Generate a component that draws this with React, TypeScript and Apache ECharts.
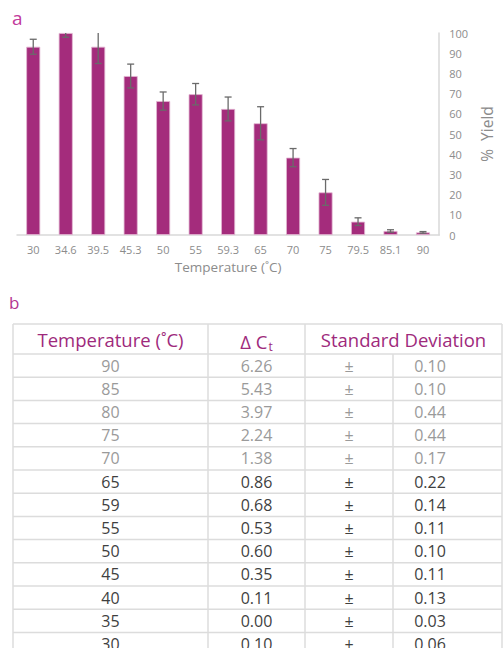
import React, { useEffect, useRef } from "react";
import * as echarts from "echarts";

const categories = ["30", "34.6", "39.5", "45.3", "50", "55", "59.3", "65", "70", "75", "79.5", "85.1", "90"];
const yieldValues = [93.2, 100, 93.2, 78.7, 66.3, 69.7, 62.4, 55.3, 38.3, 21.1, 6.6, 2.0, 1.3];
const yieldErrors = [3.7, 2.1, 8.3, 5.9, 4.5, 5.3, 5.9, 8.2, 4.5, 6.4, 1.9, 0.6, 0.4];
const yTicks = { min: 0, max: 100, interval: 10 };

const tableTemps = ["90", "85", "80", "75", "70", "65", "59", "55", "50", "45", "40", "35", "30"];
const deltaCt = ["6.26", "5.43", "3.97", "2.24", "1.38", "0.86", "0.68", "0.53", "0.60", "0.35", "0.11", "0.00", "0.10"];
const stdDev = ["0.10", "0.10", "0.44", "0.44", "0.17", "0.22", "0.14", "0.11", "0.10", "0.11", "0.13", "0.03", "0.06"];
const lightRows = 5;

const FONT = "'Open Sans', 'Noto Sans', sans-serif";

export default function App() {
  const ref = useRef<HTMLDivElement>(null);
  useEffect(() => {
    if (!ref.current) return;
    const chart = echarts.init(ref.current, null, { renderer: "svg" });

    const graphics: any[] = [];
    // panel labels
    graphics.push({ type: "text", left: 12, top: 8, style: { text: "a", fontSize: 19, fill: "#c23a9c", fontFamily: FONT } });
    graphics.push({ type: "text", left: 9, top: 294, style: { text: "b", fontSize: 17, fill: "#b3348f", fontFamily: FONT } });

    // table geometry
    const tLeft = 13, tRight = 502, tTop = 324, hBottom = 354, rowH = 23.2;
    const colX = [13, 208, 305, 393, 502];
    const tBottom = 660;
    const lineStyle = { stroke: "#dcdcdc", lineWidth: 1.5 };
    graphics.push({ type: "line", shape: { x1: tLeft, y1: tTop, x2: tRight, y2: tTop }, style: lineStyle });
    for (let i = 0; i <= tableTemps.length; i++) {
      const y = hBottom + i * rowH;
      graphics.push({ type: "line", shape: { x1: tLeft, y1: y, x2: tRight, y2: y }, style: lineStyle });
    }
    [colX[0], colX[1], colX[2], colX[4]].forEach((x) => {
      graphics.push({ type: "line", shape: { x1: x, y1: tTop, x2: x, y2: tBottom }, style: lineStyle });
    });
    graphics.push({ type: "line", shape: { x1: colX[3], y1: hBottom, x2: colX[3], y2: tBottom }, style: lineStyle });

    const headColor = "#9e2a7c";
    const hy = (tTop + hBottom) / 2;
    graphics.push({ type: "text", x: (colX[0] + colX[1]) / 2, y: hy, style: { text: "Temperature (˚C)", fontSize: 18.5, fill: headColor, fontFamily: FONT, align: "center", verticalAlign: "middle" } });
    graphics.push({
      type: "text", x: (colX[1] + colX[2]) / 2, y: hy + 2,
      style: {
        text: "{a|Δ C}{s|t}", align: "center", verticalAlign: "middle", fontFamily: FONT, fill: headColor,
        rich: {
          a: { fontSize: 18.5, fill: headColor, fontFamily: FONT, lineHeight: 24 },
          s: { fontSize: 12, fill: headColor, fontFamily: FONT, lineHeight: 24, padding: [10, 0, 0, 1] },
        },
      },
    });
    graphics.push({ type: "text", x: (colX[2] + colX[4]) / 2, y: hy, style: { text: "Standard Deviation", fontSize: 18.5, fill: headColor, fontFamily: FONT, align: "center", verticalAlign: "middle" } });

    tableTemps.forEach((t, i) => {
      const y = hBottom + i * rowH + rowH / 2;
      const c = i < lightRows ? "#9a9a9a" : "#3f3f3f";
      const st = (text: string) => ({ text, fontSize: 16, fill: c, fontFamily: FONT, align: "center", verticalAlign: "middle" });
      graphics.push({ type: "text", x: (colX[0] + colX[1]) / 2, y, style: st(t) });
      graphics.push({ type: "text", x: (colX[1] + colX[2]) / 2, y, style: st(deltaCt[i]) });
      graphics.push({ type: "text", x: (colX[2] + colX[3]) / 2, y, style: st("±") });
      graphics.push({ type: "text", x: 430, y, style: st(stdDev[i]) });
    });

    const errData = yieldValues.map((v, i) => [i, v - yieldErrors[i], v + yieldErrors[i]]);

    chart.setOption({
      animation: false,
      textStyle: { fontFamily: FONT },
      grid: { left: 17, right: 50, top: 33, height: 202 },
      xAxis: {
        type: "category",
        data: categories,
        axisTick: { show: false },
        axisLine: { lineStyle: { color: "#d9d9d9", width: 1.5 } },
        axisLabel: { color: "#8c8c8c", fontSize: 11, margin: 9, interval: 0, fontFamily: FONT },
        name: "Temperature (˚C)",
        nameLocation: "middle",
        nameGap: 25,
        nameTextStyle: { color: "#8c8c8c", fontSize: 13.5, fontFamily: FONT },
      },
      yAxis: {
        type: "value",
        position: "right",
        min: yTicks.min,
        max: yTicks.max,
        interval: yTicks.interval,
        splitLine: { show: false },
        axisTick: { show: false },
        axisLine: { show: true, lineStyle: { color: "#d9d9d9", width: 1.5 } },
        axisLabel: { color: "#8c8c8c", fontSize: 11, margin: 10, fontFamily: FONT },
        name: "%  Yield",
        nameLocation: "middle",
        nameRotate: 90,
        nameGap: 35,
        nameTextStyle: { color: "#8c8c8c", fontSize: 15.5, fontFamily: FONT },
      },
      series: [
        {
          type: "bar",
          data: yieldValues,
          barWidth: 14,
          itemStyle: { color: "#a42c7c", borderColor: "#e2b6d2", borderWidth: 0.8 },
        },
        {
          type: "custom",
          data: errData,
          clip: true,
          z: 5,
          renderItem: (params: any, api: any) => {
            const i = api.value(0);
            const lo = api.coord([i, api.value(1)]);
            const hi = api.coord([i, api.value(2)]);
            const hw = 3.5;
            const style = { stroke: "#6a6a6a", lineWidth: 1.3 };
            return {
              type: "group",
              children: [
                { type: "line", shape: { x1: lo[0], y1: lo[1], x2: hi[0], y2: hi[1] }, style },
                { type: "line", shape: { x1: lo[0] - hw, y1: lo[1], x2: lo[0] + hw, y2: lo[1] }, style },
                { type: "line", shape: { x1: hi[0] - hw, y1: hi[1], x2: hi[0] + hw, y2: hi[1] }, style },
              ],
            };
          },
        },
      ],
      graphic: graphics,
    });
    return () => chart.dispose();
  }, []);
  return <div ref={ref} style={{ position: "absolute", left: 0, top: 0, width: 503, height: 648 }} />;
}
